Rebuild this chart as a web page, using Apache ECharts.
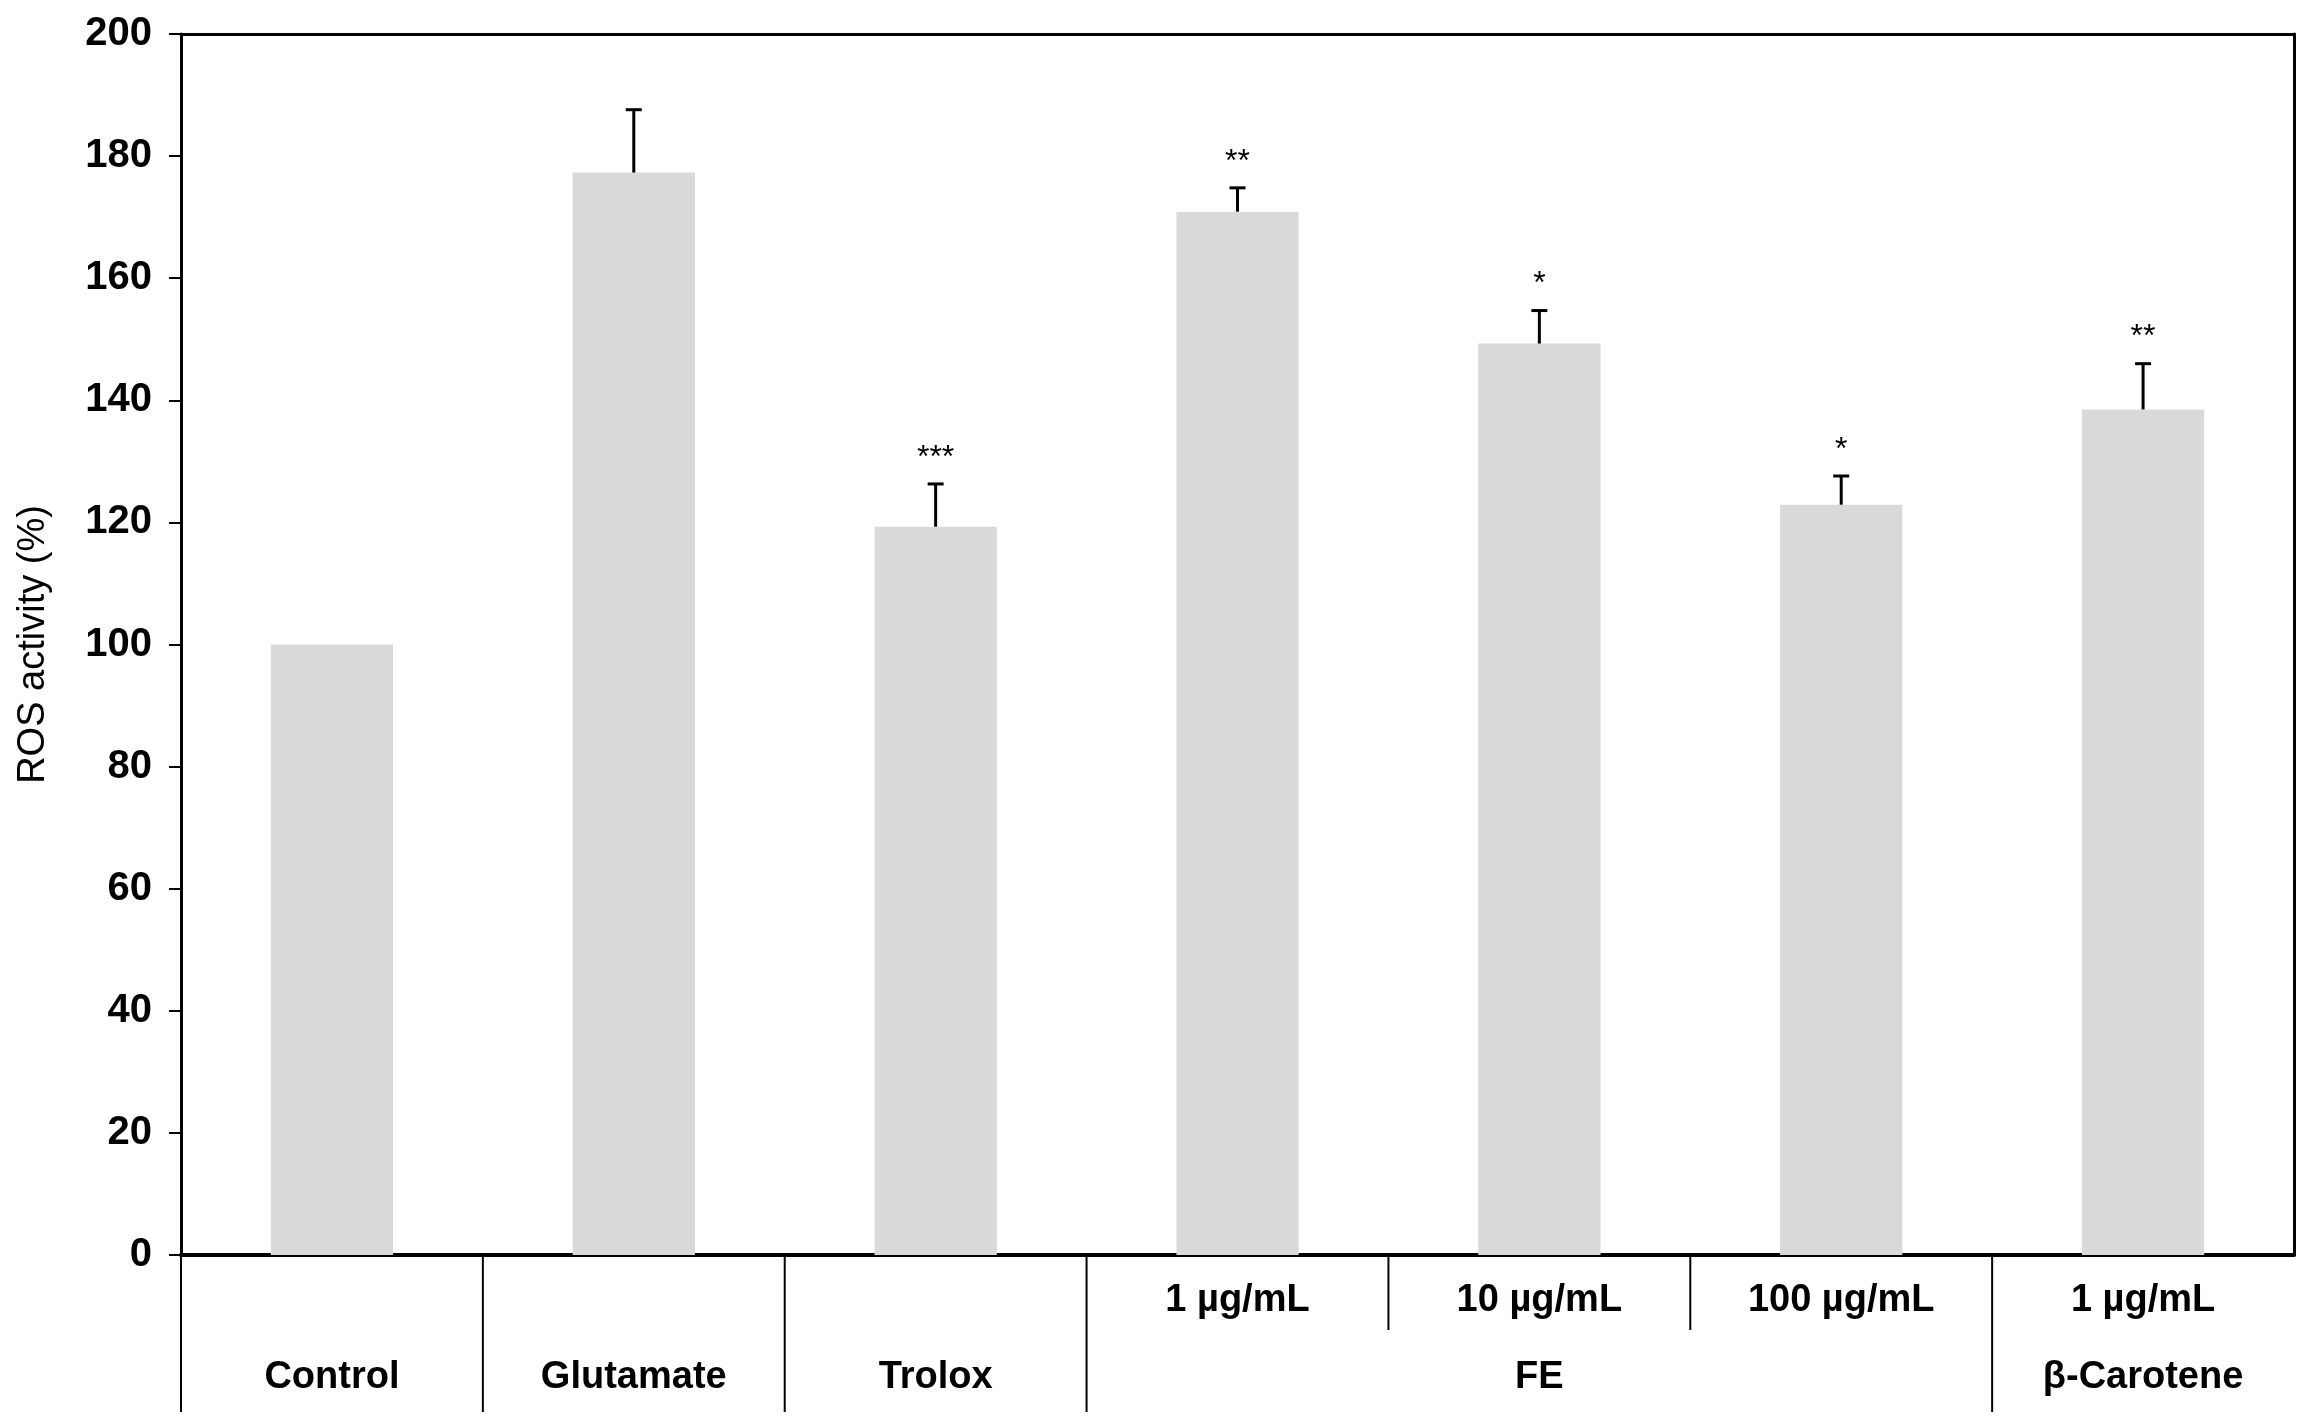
<!DOCTYPE html>
<html>
<head>
<meta charset="utf-8">
<script src="https://cdn.jsdelivr.net/npm/echarts@6/dist/echarts.min.js"></script>
<style>
html,body{margin:0;padding:0;background:#fff;}
#chart{width:2310px;height:1428px;}
</style>
</head>
<body>
<div id="chart"></div>
<script>
// ---- data ----
const categories = ['Control', 'Glutamate', 'Trolox', 'FE 1', 'FE 10', 'FE 100', 'β-Carotene 1'];
const doseLabels = ['', '', '', '1 µg/mL', '10 µg/mL', '100 µg/mL', '1 µg/mL'];
const groupLabels = ['Control', 'Glutamate', 'Trolox', 'FE', 'FE', 'FE', 'β-Carotene'];
const values = [100, 177.3, 119.3, 170.9, 149.3, 122.9, 138.5];
const errors = [0, 10.3, 7.0, 3.9, 5.4, 4.7, 7.5];
const stars = ['', '', '***', '**', '*', '*', '**'];
const yTicks = { min: 0, max: 200, interval: 20 };

const FONT = "'Liberation Sans', Arial, sans-serif";

// middle index of each group for the group label
function groupMiddle(idx) {
  const g = groupLabels[idx];
  let first = idx, last = idx;
  while (first > 0 && groupLabels[first - 1] === g) first--;
  while (last < groupLabels.length - 1 && groupLabels[last + 1] === g) last++;
  return Math.floor((first + last) / 2) === idx;
}

const chart = echarts.init(document.getElementById('chart'));
const option = {
  animation: false,
  backgroundColor: '#ffffff',
  grid: { left: 181, right: 16, top: 34, bottom: 173, containLabel: false },
  xAxis: [
    {
      type: 'category', data: categories, position: 'bottom',
      axisLine: { show: true, lineStyle: { color: '#000', width: 4 } },
      axisTick: { show: false },
      axisLabel: {
        interval: 0, margin: 46, verticalAlign: 'middle',
        fontFamily: FONT, fontWeight: 'bold', fontSize: 38, color: '#000',
        formatter: (v, i) => doseLabels[i]
      },
      splitLine: { show: false }
    },
    {
      type: 'category', data: categories, position: 'bottom',
      axisLine: { show: false }, axisTick: { show: false },
      axisLabel: {
        interval: 0, margin: 123, verticalAlign: 'middle',
        fontFamily: FONT, fontWeight: 'bold', fontSize: 38, color: '#000',
        formatter: (v, i) => groupMiddle(i) ? groupLabels[i] : ''
      },
      splitLine: { show: false }
    },
    {
      type: 'category', data: categories, position: 'top',
      axisLine: { show: true, lineStyle: { color: '#000', width: 3 } },
      axisTick: { show: false }, axisLabel: { show: false }, splitLine: { show: false }
    }
  ],
  yAxis: [
    {
      type: 'value', min: yTicks.min, max: yTicks.max, interval: yTicks.interval,
      name: 'ROS activity (%)', nameLocation: 'middle', nameGap: 128, nameRotate: 90,
      nameTextStyle: { fontFamily: FONT, fontSize: 38, color: '#000' },
      axisLine: { show: true, lineStyle: { color: '#000', width: 3 } },
      axisTick: { show: true, inside: false, length: 12, lineStyle: { color: '#000', width: 2 } },
      axisLabel: { margin: 29, fontFamily: FONT, fontWeight: 'bold', fontSize: 40, color: '#000' },
      splitLine: { show: false }
    },
    {
      type: 'value', min: yTicks.min, max: yTicks.max, interval: yTicks.interval, position: 'right',
      axisLine: { show: true, lineStyle: { color: '#000', width: 3 } },
      axisTick: { show: false }, axisLabel: { show: false }, splitLine: { show: false }
    }
  ],
  series: [
    {
      type: 'bar', data: values, barWidth: '40.5%',
      itemStyle: { color: '#d9d9d9' }, z: 1
    },
    {
      type: 'custom', z: 5, clip: false,
      data: categories.map((c, i) => [i, values[i], errors[i]]),
      renderItem: function (params, api) {
        const i = api.value(0), v = api.value(1), e = api.value(2);
        const children = [];
        const base = api.coord([i, v]);
        const top = api.coord([i, v + e]);
        if (e > 0) {
          children.push({ type: 'line', shape: { x1: base[0], y1: base[1], x2: top[0], y2: top[1] },
            style: { stroke: '#000', lineWidth: 3 } });
          children.push({ type: 'line', shape: { x1: top[0] - 8, y1: top[1], x2: top[0] + 8, y2: top[1] },
            style: { stroke: '#000', lineWidth: 3 } });
        }
        const s = stars[params.dataIndex];
        if (s) {
          children.push({ type: 'text', x: top[0], y: top[1] - 26,
            style: { text: s, fill: '#000', font: '32px ' + FONT, align: 'center', verticalAlign: 'middle' } });
        }
        return { type: 'group', children: children };
      }
    },
    {
      type: 'custom', z: 6, clip: false, silent: true,
      data: categories.map((c, i) => [i, 0]),
      renderItem: function (params, api) {
        const i = params.dataIndex;
        const c = api.coord([i, 0]);
        const band = api.size([1, 0])[0];
        const x = c[0] - band / 2;
        const full = i === 0 || groupLabels[i] !== groupLabels[i - 1];
        const len = full ? 157 : 75;
        return { type: 'line', shape: { x1: x, y1: c[1], x2: x, y2: c[1] + len },
          style: { stroke: '#000', lineWidth: 2 } };
      }
    }
  ]
};
chart.setOption(option);
</script>
</body>
</html>
